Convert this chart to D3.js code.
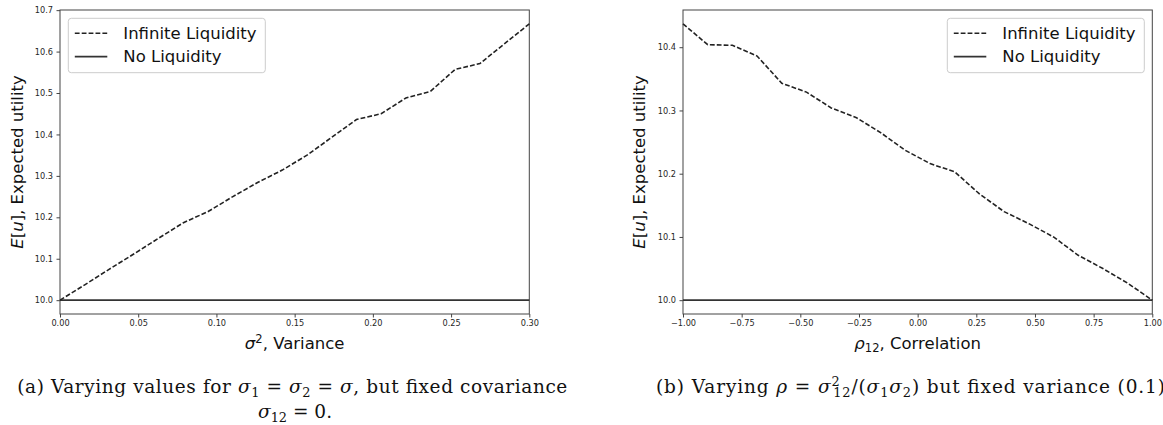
<!DOCTYPE html>
<html>
<head>
<meta charset="utf-8">
<script src="https://cdn.jsdelivr.net/npm/d3@7/dist/d3.min.js"></script>
<style>
  body { margin: 0; background: #fff; }
  svg { display: block; }
</style>
</head>
<body>
<svg id="chart" width="1163" height="425"></svg>
<script>
// panel (a): expected utility against variance
const VARIANCE = [0, 0.0158, 0.0316, 0.0474, 0.0632, 0.0789, 0.0947, 0.1105, 0.1263, 0.1421,
  0.1579, 0.1737, 0.1895, 0.2053, 0.2211, 0.2368, 0.2526, 0.2684, 0.2842, 0.3]
const UTILITY_BY_VARIANCE = [10.000, 10.037, 10.075, 10.112, 10.150, 10.187, 10.214, 10.250, 10.284, 10.314,
  10.350, 10.393, 10.436, 10.450, 10.488, 10.504, 10.557, 10.571, 10.619, 10.667]
const VARIANCE_TICKS = [0, 0.05, 0.10, 0.15, 0.20, 0.25, 0.30]
const UTILITY_TICKS_A = [10.0, 10.1, 10.2, 10.3, 10.4, 10.5, 10.6, 10.7]

// panel (b): expected utility against correlation
const CORRELATION = [-1, -0.8947, -0.7895, -0.6842, -0.5789, -0.4737, -0.3684, -0.2632, -0.1579, -0.0526,
  0.0526, 0.1579, 0.2632, 0.3684, 0.4737, 0.5789, 0.6842, 0.7895, 0.8947, 1]
const UTILITY_BY_CORRELATION = [10.437, 10.404, 10.403, 10.386, 10.343, 10.329, 10.304, 10.289, 10.265, 10.237,
  10.216, 10.203, 10.168, 10.140, 10.121, 10.100, 10.071, 10.050, 10.027, 10.000]
const CORRELATION_TICKS = [-1, -0.75, -0.5, -0.25, 0, 0.25, 0.5, 0.75, 1]
const UTILITY_TICKS_B = [10.0, 10.1, 10.2, 10.3, 10.4]

// no liquidity gives a flat utility
const NO_LIQUIDITY = 10.0

const SERIES_NAMES = ['Infinite Liquidity', 'No Liquidity']

const SANS = 'DejaVu Sans, sans-serif'
const SERIF = 'DejaVu Serif, serif'
const TOP = 10
const BOTTOM = 314
const DASH = '4.8,2.1'

const svg = d3.select('#chart')

// write text made of plain, italic, raised and lowered pieces
function rich (text, parts, size) {
  let offset = 0
  parts.forEach(p => {
    const shift = p.s === 'up' ? -0.38 * size : p.s === 'down' ? 0.2 * size : 0
    const span = text.append('tspan')
      .text(p.t)
      .attr('dy', shift - offset)
      .style('font-size', (p.s ? size * 0.7 : size) + 'px')
    if (p.i) span.style('font-style', 'italic')
    if (p.dx) span.attr('dx', p.dx)
    offset = shift
  })
  return text
}

function panel ({ x0, x1, xDomain, xs, ys, xTicks, yTicks, xLabel, yLabelX, legendX }) {
  const lo = Math.min(NO_LIQUIDITY, d3.min(ys))
  const hi = d3.max(ys)
  const pad = (hi - lo) * 0.05
  const x = d3.scaleLinear().domain(xDomain).range([x0, x1])
  const y = d3.scaleLinear().domain([lo - pad, hi + pad]).range([BOTTOM, TOP])
  const g = svg.append('g')

  const xAxis = g.append('g')
    .attr('transform', `translate(0,${BOTTOM})`)
    .call(d3.axisBottom(x).tickValues(xTicks).tickSize(3.5).tickPadding(3).tickFormat(d3.format('.2f')))
  const yAxis = g.append('g')
    .attr('transform', `translate(${x0},0)`)
    .call(d3.axisLeft(y).tickValues(yTicks).tickSize(3.5).tickPadding(3.5).tickFormat(d3.format('.1f')))

  ;[xAxis, yAxis].forEach(a => {
    a.select('.domain').remove()
    a.selectAll('line').attr('stroke', '#444')
    a.selectAll('text')
      .attr('fill', '#262626')
      .style('font-family', SANS)
      .style('font-size', '8.2px')
  })

  g.append('rect')
    .attr('x', x0)
    .attr('y', TOP)
    .attr('width', x1 - x0)
    .attr('height', BOTTOM - TOP)
    .attr('fill', 'none')
    .attr('stroke', '#444')
    .attr('stroke-width', 1)

  g.append('line')
    .attr('x1', x(xDomain[0]))
    .attr('x2', x(xDomain[1]))
    .attr('y1', y(NO_LIQUIDITY))
    .attr('y2', y(NO_LIQUIDITY))
    .attr('stroke', '#333')
    .attr('stroke-width', 1.8)

  const line = d3.line()
    .x((d, i) => x(xs[i]))
    .y(d => y(d))
  g.append('path')
    .datum(ys)
    .attr('d', line)
    .attr('fill', 'none')
    .attr('stroke', '#222')
    .attr('stroke-width', 1.6)
    .attr('stroke-dasharray', DASH)

  rich(g.append('text')
    .attr('x', (x0 + x1) / 2)
    .attr('y', 349)
    .attr('text-anchor', 'middle')
    .attr('fill', '#111')
    .style('font-family', SANS), xLabel, 16.5)

  rich(g.append('text')
    .attr('transform', `translate(${yLabelX},${(TOP + BOTTOM) / 2}) rotate(-90)`)
    .attr('text-anchor', 'middle')
    .attr('fill', '#111')
    .style('font-family', SANS),
  [{ t: 'E', i: true }, { t: '[' }, { t: 'u', i: true }, { t: '], Expected utility' }], 16.5)

  // legend
  const legend = g.append('g').attr('transform', `translate(${legendX},18.3)`)
  legend.append('rect')
    .attr('width', 197)
    .attr('height', 54.4)
    .attr('rx', 3)
    .attr('fill', '#fff')
    .attr('fill-opacity', 0.8)
    .attr('stroke', '#ccc')
  SERIES_NAMES.forEach((name, i) => {
    const cy = 15 + i * 23.4
    legend.append('line')
      .attr('x1', 6.5)
      .attr('x2', 39)
      .attr('y1', cy)
      .attr('y2', cy)
      .attr('stroke', i === 0 ? '#222' : '#333')
      .attr('stroke-width', i === 0 ? 1.6 : 1.8)
      .attr('stroke-dasharray', i === 0 ? DASH : null)
    legend.append('text')
      .attr('x', 55)
      .attr('y', cy + 5.3)
      .attr('fill', '#111')
      .style('font-family', SANS)
      .style('font-size', '16.5px')
      .text(name)
  })
}

panel({
  x0: 60,
  x1: 529.3,
  xDomain: [0, 0.3],
  xs: VARIANCE,
  ys: UTILITY_BY_VARIANCE,
  xTicks: VARIANCE_TICKS,
  yTicks: UTILITY_TICKS_A,
  xLabel: [{ t: 'σ', i: true }, { t: '2', s: 'up' }, { t: ', Variance' }],
  yLabelX: 23,
  legendX: 68.3
})

panel({
  x0: 683,
  x1: 1152.3,
  xDomain: [-1, 1],
  xs: CORRELATION,
  ys: UTILITY_BY_CORRELATION,
  xTicks: CORRELATION_TICKS,
  yTicks: UTILITY_TICKS_B,
  xLabel: [{ t: 'ρ', i: true }, { t: '12', s: 'down' }, { t: ', Correlation' }],
  yLabelX: 645,
  legendX: 947.3
})

// captions under the panels
const caption = (x, y, anchor, parts, length) => {
  const t = svg.append('text')
    .attr('x', x)
    .attr('y', y)
    .attr('text-anchor', anchor)
    .attr('fill', '#111')
    .style('font-family', SERIF)
  rich(t, parts, 18.5)
  if (length) t.attr('textLength', length).attr('lengthAdjust', 'spacing')
  return t
}

caption(17.3, 393, 'start', [
  { t: '(a) Varying values for ' }, { t: 'σ', i: true }, { t: '1', s: 'down' },
  { t: ' = ' }, { t: 'σ', i: true }, { t: '2', s: 'down' },
  { t: ' = ' }, { t: 'σ', i: true }, { t: ', but fixed covariance' }
], 550)

caption(295, 418, 'middle', [
  { t: 'σ', i: true }, { t: '12', s: 'down' }, { t: ' = 0.' }
])

caption(656, 393, 'start', [
  { t: '(b) Varying ' }, { t: 'ρ', i: true }, { t: ' = ' }, { t: 'σ', i: true },
  { t: '2', s: 'up' }, { t: '12', s: 'down', dx: -7.5 },
  { t: '/(' }, { t: 'σ', i: true }, { t: '1', s: 'down' }, { t: 'σ', i: true }, { t: '2', s: 'down' },
  { t: ') but fixed variance (0.1)' }
], 509)
</script>
</body>
</html>
